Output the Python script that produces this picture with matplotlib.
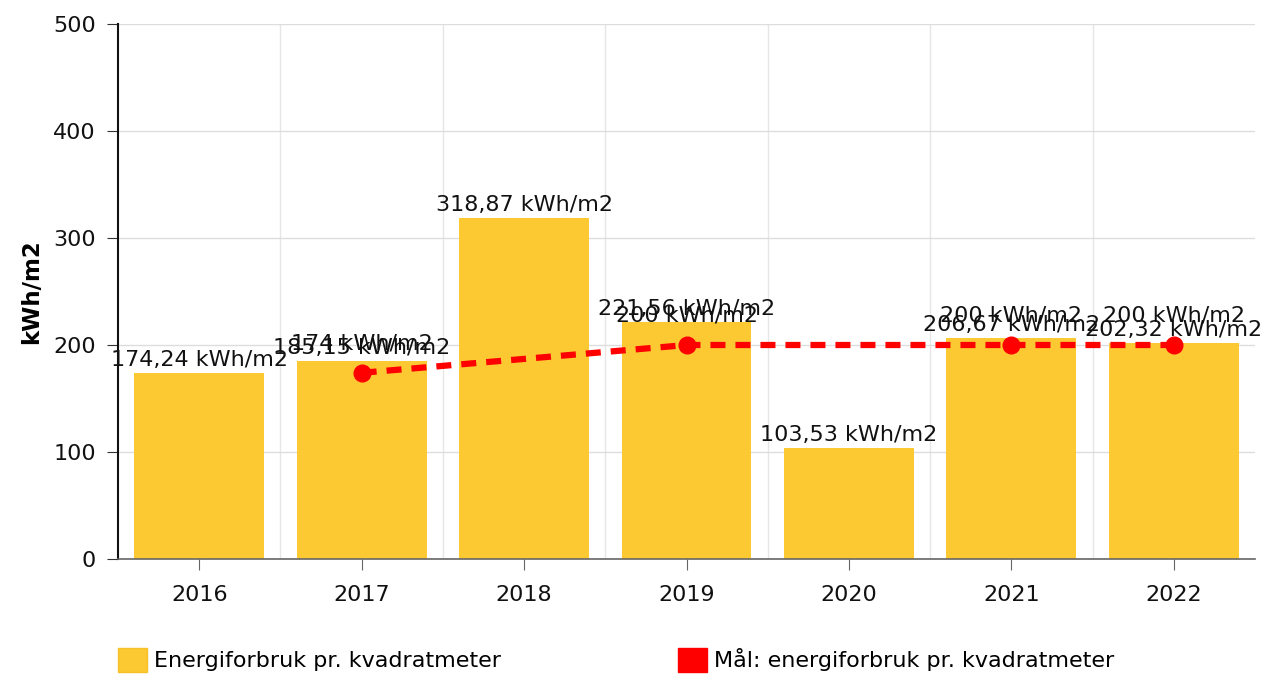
import matplotlib.pyplot as plt
from matplotlib.patches import Patch
import numpy as np

years = ['2016', '2017', '2018', '2019', '2020', '2021', '2022']
forbruk = [174.24, 185.15, 318.87, 221.56, 103.53, 206.67, 202.32]
maal_idx = [1, 3, 5, 6]
maal = [174, 200, 200, 200]

def fmt(v):
    s = ('%.2f' % v).replace('.', ',')
    if s.endswith(',00'):
        s = s[:-3]
    return s + ' kWh/m2'

plt.rcParams['font.family'] = ['DejaVu Sans']
fig = plt.figure(figsize=(12.63, 6.74), dpi=100)
ax = fig.add_axes([118/1263, 1-559/674, (1255-118)/1263, (559-24)/674])

x = np.arange(len(years))
ax.bar(x, forbruk, width=0.8, color='#fcc933', zorder=2)
ax.plot(maal_idx, maal, color='#ff0000', lw=4.5, ls=(0, (2.4, 1.6)),
        marker='o', ms=12, zorder=3)

for xi, v in zip(x, forbruk):
    ax.annotate(fmt(v), (xi, v), xytext=(0, 2), textcoords='offset points',
                ha='center', va='bottom', fontsize=16, color='#111111', zorder=5)
for xi, v in zip(maal_idx, maal):
    ax.annotate(fmt(v), (xi, v), xytext=(0, 14), textcoords='offset points',
                ha='center', va='bottom', fontsize=16, color='#111111', zorder=5)

ax.set_xlim(-0.5, len(years) - 0.5)
ax.set_ylim(0, 500)
ax.set_yticks([0, 100, 200, 300, 400, 500])
ax.set_xticks(x)
ax.set_xticklabels(years)
ax.set_xticks(x[:-1] + 0.5, minor=True)
ax.tick_params(axis='both', which='major', labelsize=16, length=8, color='#333333',
               labelcolor='#111111')
ax.tick_params(axis='y', which='major', pad=8)
ax.tick_params(axis='x', which='major', pad=11, color='#666666')
ax.tick_params(axis='x', which='minor', length=0)
ax.grid(axis='y', which='major', color='#dddddd', lw=1, zorder=0)
ax.grid(axis='x', which='minor', color='#e6e6e6', lw=1, zorder=0)
ax.set_axisbelow(True)

for s in ['top', 'right']:
    ax.spines[s].set_visible(False)
ax.spines['left'].set_color('#111111')
ax.spines['left'].set_linewidth(1.5)
ax.spines['bottom'].set_color('#666666')
ax.spines['bottom'].set_linewidth(1.2)

ax.set_ylabel('kWh/m2', fontsize=16.5, fontweight='bold', labelpad=7)

handles = [Patch(facecolor='#fcc933', edgecolor='#f5c02a'),
           Patch(facecolor='#ff0000', edgecolor='#ff0000')]
labels = ['Energiforbruk pr. kvadratmeter', 'Mål: energiforbruk pr. kvadratmeter']
fig.legend(handles, labels, loc='center left', bbox_to_anchor=(118/1263, 1-660/674),
           ncol=2, frameon=False, fontsize=16, handlelength=1.3, handleheight=1.25,
           handletextpad=0.3, columnspacing=8.0, borderpad=0, borderaxespad=0)

fig.savefig('out.png', dpi=100)
